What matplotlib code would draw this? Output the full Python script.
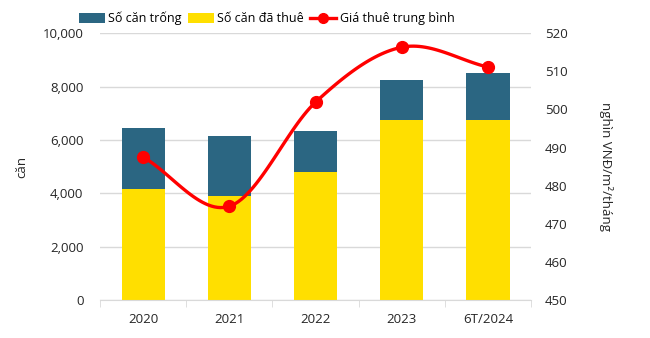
import numpy as np
import matplotlib.pyplot as plt

# Data
years = ["2020", "2021", "2022", "2023", "6T/2024"]
rented = [4150, 3900, 4800, 6750, 6750]        # Số căn đã thuê
vacant = [2300, 2250, 1550, 1500, 1750]        # Số căn trống
avg_rent = [487.5, 474.6, 501.9, 516.3, 511.1]  # Giá thuê trung bình

plt.rcParams['font.family'] = ['Open Sans', 'DejaVu Sans']

def smooth(xs, ys, n=30):
    # Catmull-Rom curve through the points (like Excel's smoothed line)
    xs = np.asarray(xs, float)
    ys = np.asarray(ys, float)
    px = np.concatenate([[2 * xs[0] - xs[1]], xs, [2 * xs[-1] - xs[-2]]])
    py = np.concatenate([[2 * ys[0] - ys[1]], ys, [2 * ys[-1] - ys[-2]]])
    outx, outy = [], []
    t = np.linspace(0, 1, n)
    for i in range(1, len(px) - 2):
        for p, out in ((px, outx), (py, outy)):
            p0, p1, p2, p3 = p[i - 1], p[i], p[i + 1], p[i + 2]
            out.extend(0.5 * ((2 * p1) + (-p0 + p2) * t
                              + (2 * p0 - 5 * p1 + 4 * p2 - p3) * t ** 2
                              + (-p0 + 3 * p1 - 3 * p2 + p3) * t ** 3))
    return np.array(outx), np.array(outy)

fig = plt.figure(figsize=(6.5, 3.38), dpi=100)
ax = fig.add_axes([0.154, 0.112, 0.663, 0.79])
x = np.arange(len(years))

b1 = ax.bar(x, rented, width=0.5, color="#FFDF00", label="Số căn đã thuê", zorder=2)
b2 = ax.bar(x, vacant, width=0.5, bottom=rented, color="#2B6682", label="Số căn trống", zorder=2)

ax.set_xlim(-0.5, len(years) - 0.5)
ax.set_ylim(0, 10000)
ax.set_yticks(range(0, 10001, 2000))
ax.set_yticklabels([f"{v:,}" for v in range(0, 10001, 2000)])
ax.yaxis.grid(True, color="#D9D9D9", linewidth=1, zorder=0)
ax.set_axisbelow(True)
for s in ["top", "left", "right"]:
    ax.spines[s].set_visible(False)
ax.spines["bottom"].set_color("#D9D9D9")
ax.tick_params(axis="y", length=0, labelsize=9.5, colors="#262626", pad=12)
ax.set_xticks(x)
ax.set_xticklabels(years)
ax.tick_params(axis="x", which="major", length=0, labelsize=9.5, colors="#262626", pad=9)
ax.set_xticks(np.arange(-0.5, len(years)), minor=True)
ax.tick_params(axis="x", which="minor", length=5, color="#D9D9D9")
ax.set_ylabel("căn", fontsize=9.5, color="#262626", labelpad=10)

ax2 = ax.twinx()
ax2.set_ylim(450, 520)
ax2.set_yticks(range(450, 521, 10))
for s in ["top", "left", "right", "bottom"]:
    ax2.spines[s].set_visible(False)
ax2.tick_params(axis="y", length=0, labelsize=9.5, colors="#262626", pad=10)
sx, sy = smooth(x, avg_rent)
ax2.plot(sx, sy, color="#FF0000", linewidth=2.4, zorder=3)
ax2.plot(x, avg_rent, "o", color="#FF0000", markersize=8.5, zorder=4)
ax2.set_ylabel("nghìn VNĐ/m²/tháng", fontsize=9.5, color="#262626", rotation=270, labelpad=4)
ax2.yaxis.set_label_coords(1.19, 0.5)

line_handle = plt.Line2D([], [], color="#FF0000", linewidth=2.4, marker="o", markersize=7)
fig.legend([b2, b1, line_handle], ["Số căn trống", "Số căn đã thuê", "Giá thuê trung bình"],
           loc="center", bbox_to_anchor=(0.41, 0.945), ncol=3, frameon=False,
           fontsize=9, handlelength=2.1, handleheight=0.8, columnspacing=0.5, handletextpad=0.25)

fig.savefig("out.png", dpi=100)
